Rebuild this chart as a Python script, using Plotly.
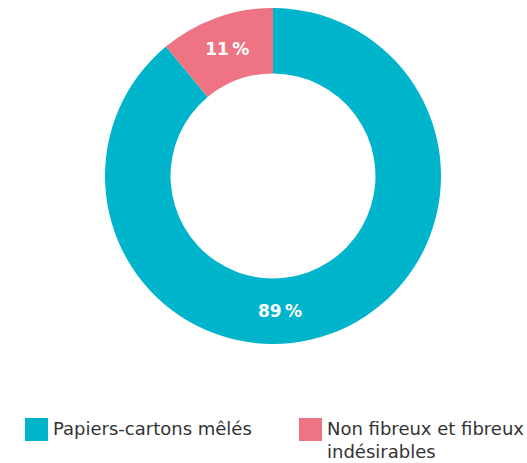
import math
import plotly.graph_objects as go

categories = ["Papiers-cartons mêlés", "Non fibreux et fibreux indésirables"]
legend_labels = ["Papiers-cartons mêlés", "Non fibreux et fibreux<br>indésirables"]
values = [89, 11]
colors = ["#00B4CC", "#EE7383"]
label_angles = [177, None]  # custom label angle (deg clockwise from top); None = plotly default

W, H = 527, 463
cx, cy, r = 273, 176, 168
hole = 0.61
FONT = "DejaVu Sans"

texts = ["" if a is not None else f"{v}\u2009%" for v, a in zip(values, label_angles)]

fig = go.Figure(go.Pie(
    labels=categories,
    values=values,
    text=texts,
    textinfo="text",
    marker=dict(colors=colors, line=dict(width=0)),
    hole=hole,
    sort=False,
    direction="clockwise",
    rotation=0,
    textposition="inside",
    insidetextorientation="horizontal",
    textfont=dict(family=FONT, size=17, color="white", weight="bold"),
    showlegend=False,
    hoverinfo="label+percent",
    domain=dict(x=[(cx - r) / W, (cx + r) / W], y=[1 - (cy + r) / H, 1 - (cy - r) / H]),
))

annotations = []
rm = r * (1 + hole) / 2
for v, a in zip(values, label_angles):
    if a is None:
        continue
    px = cx + rm * math.sin(math.radians(a))
    py = cy - rm * math.cos(math.radians(a))
    annotations.append(dict(text=f"{v}\u2009%", xref="paper", yref="paper", x=px / W, y=1 - py / H,
                            xanchor="center", yanchor="middle", showarrow=False,
                            font=dict(family=FONT, size=17, color="white", weight="bold")))

shapes = []
legend_pos = [(25, 51), (299, 325)]
sq = 23
ytop = 418
for (sx, tx), lab, col in zip(legend_pos, legend_labels, colors):
    shapes.append(dict(type="rect", xref="paper", yref="paper",
                       x0=sx / W, x1=(sx + sq) / W, y0=1 - (ytop + sq) / H, y1=1 - ytop / H,
                       fillcolor=col, line=dict(width=0)))
    annotations.append(dict(text=lab, xref="paper", yref="paper", x=tx / W, y=1 - (ytop - 2) / H,
                            xanchor="left", yanchor="top", align="left", showarrow=False,
                            font=dict(family=FONT, size=18, color="#333333")))

fig.update_layout(
    width=W, height=H,
    margin=dict(l=0, r=0, t=0, b=0),
    paper_bgcolor="white", plot_bgcolor="white",
    shapes=shapes, annotations=annotations,
)
fig.write_html("out.html")
